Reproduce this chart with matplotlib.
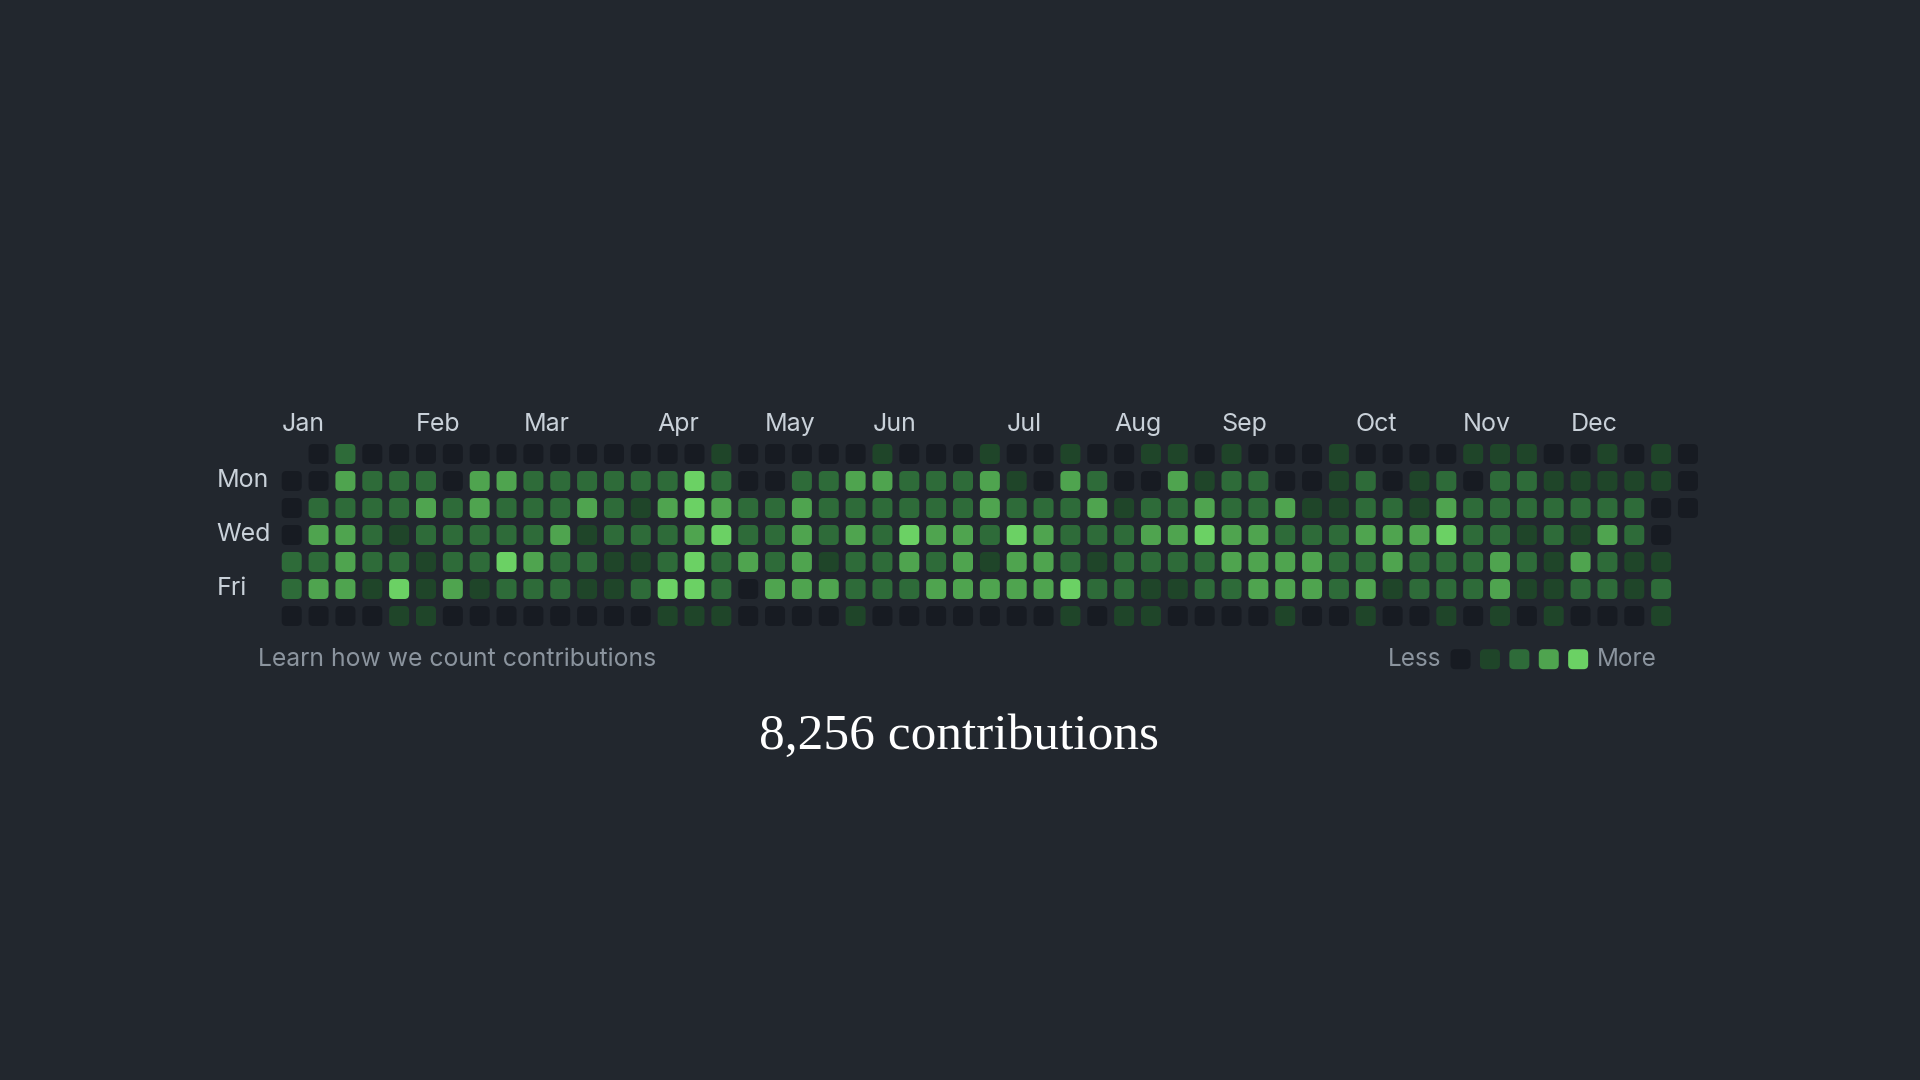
import matplotlib.pyplot as plt
from matplotlib.patches import FancyBboxPatch

# -------------------------------
# DATA: contribution level (0-4) per week column, one list per weekday
# None = day outside the year (2024 starts on a Monday, ends on a Tuesday)
# -------------------------------
sun = [None,
       0, 2, 0, 0, 0, 0, 0, 0, 0, 0, 0, 0, 0,
       0, 0, 1, 0, 0, 0, 0, 0, 1, 0, 0, 0, 1, 0,
       0, 1, 0, 0, 1, 1, 0, 1, 0, 0, 0, 1, 0, 0,
       0, 0, 1, 1, 1, 0, 0, 1, 0, 1, 0]
mon = [0, 0, 3, 2, 2, 2, 0, 3, 3, 2, 2, 2, 2, 2,
       2, 4, 2, 0, 0, 2, 2, 3, 3, 2, 2, 2, 3, 1,
       0, 3, 2, 0, 0, 3, 1, 2, 2, 0, 0, 1, 2, 0,
       1, 2, 0, 2, 2, 1, 1, 1, 1, 1, 0]
tue = [0, 2, 2, 2, 2, 3, 2, 3, 2, 2, 2, 3, 2, 1,
       3, 4, 3, 2, 2, 3, 2, 2, 2, 2, 2, 2, 3, 2,
       2, 2, 3, 1, 2, 2, 3, 2, 2, 3, 1, 1, 2, 2,
       1, 3, 2, 2, 2, 2, 2, 2, 2, 0, 0]
wed = [0, 3, 3, 2, 1, 2, 2, 2, 2, 2, 3, 1, 2, 2,
       2, 3, 4, 2, 2, 3, 2, 3, 2, 4, 3, 3, 2, 4,
       3, 2, 2, 2, 3, 3, 4, 3, 3, 2, 2, 2, 3, 3,
       3, 4, 2, 2, 1, 2, 1, 3, 2, 0, None]
thu = [2, 2, 3, 2, 2, 1, 2, 2, 4, 3, 2, 2, 1, 1,
       2, 4, 2, 3, 2, 3, 1, 2, 2, 3, 2, 3, 1, 3,
       3, 2, 1, 2, 2, 2, 2, 3, 3, 3, 3, 2, 2, 3,
       2, 2, 2, 3, 2, 1, 3, 2, 1, 1, None]
fri = [2, 3, 3, 1, 4, 1, 3, 1, 2, 2, 2, 1, 1, 2,
       4, 4, 2, 0, 3, 3, 3, 2, 2, 2, 3, 3, 3, 3,
       3, 4, 2, 2, 1, 1, 2, 2, 3, 3, 3, 2, 3, 1,
       2, 2, 2, 3, 1, 1, 2, 2, 1, 2, None]
sat = [0, 0, 0, 0, 1, 1, 0, 0, 0, 0, 0, 0, 0, 0,
       1, 1, 1, 0, 0, 0, 0, 1, 0, 0, 0, 0, 0, 0,
       0, 1, 0, 1, 1, 0, 0, 0, 0, 1, 0, 0, 1, 0,
       0, 1, 0, 1, 0, 1, 0, 0, 0, 1, None]

weekday_labels = ["", "Mon", "", "Wed", "", "Fri", ""]
months = ["Jan", "Feb", "Mar", "Apr", "May", "Jun",
          "Jul", "Aug", "Sep", "Oct", "Nov", "Dec"]
month_cols = [0, 5, 9, 14, 18, 22, 27, 31, 35, 40, 44, 48]
total = 8256

# -------------------------------
# STYLE
# -------------------------------
bg = "#22272e"
level_colors = ["#171b22", "#1f4529", "#2e6b39", "#4fa44f", "#6bd164"]
label_color = "#c9d1d9"
muted = "#8b949e"
sans = "Inter"

grid = [sun, mon, tue, wed, thu, fri, sat]
n_weeks = len(mon)

fig = plt.figure(figsize=(19.2, 10.8), dpi=100, facecolor=bg)
ax = fig.add_axes([0.14495, 0.41713, 0.7412, 0.175])
ax.set_facecolor(bg)
ax.set_xlim(-0.5, n_weeks - 0.5)
ax.set_ylim(6.5, -0.5)
ax.axis("off")


def cell(x, y, color):
    w, h = 0.745, 0.74
    p = FancyBboxPatch((x - w / 2, y - h / 2), w, h,
                       boxstyle="round,pad=0,rounding_size=0.17",
                       facecolor=color, edgecolor="none", clip_on=False)
    ax.add_patch(p)


for r, week_vals in enumerate(grid):
    for c, v in enumerate(week_vals):
        if v is None:
            continue
        cell(c, r, level_colors[v])

# month + weekday labels
for m, c in zip(months, month_cols):
    ax.text(c - 0.37, -1.08, m, color=label_color, fontsize=18,
            family=sans, ha="left", va="center")

for r, lab in enumerate(weekday_labels):
    if lab:
        ax.text(-2.8, r, lab, color=label_color, fontsize=18,
                family=sans, ha="left", va="center")

ax.text(-1.27, 7.62, "Learn how we count contributions", color=muted,
        fontsize=17.8, family=sans, ha="left", va="center")

# legend
ax.text(42.8, 7.62, "Less", color=muted, fontsize=17.5, family=sans,
        ha="right", va="center")
for i, col in enumerate(level_colors):
    cell(43.53 + 1.095 * i, 7.6, col)
ax.text(48.6, 7.62, "More", color=muted, fontsize=17.5, family=sans,
        ha="left", va="center")

fig.text(959 / 1920, 1 - 737 / 1080, f"{total:,} contributions",
         color="white", fontsize=37, family="Liberation Serif",
         ha="center", va="center")

fig.savefig("out.png", dpi=100, facecolor=bg)
